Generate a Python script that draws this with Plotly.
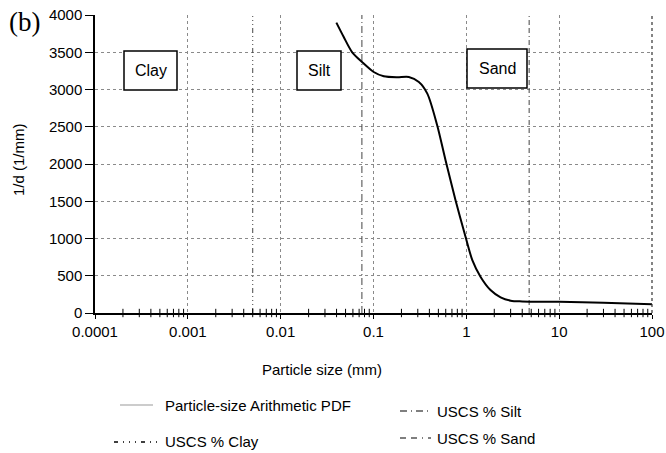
import plotly.graph_objects as go

# ---- data ----
pdf_size_mm = [0.0398, 0.0478, 0.0587, 0.0753, 0.1005, 0.129, 0.18, 0.24, 0.308, 0.38,
               0.485, 0.597, 0.765, 0.98, 1.16, 1.42, 1.82, 2.34, 3.0, 4.0,
               10.0, 30.0, 100.0]
pdf_inv_d = [3897, 3704, 3503, 3369, 3235, 3177, 3164, 3168, 3100, 2945,
             2520, 2051, 1515, 1023, 710, 487, 308, 210, 165, 155,
             150, 138, 118]

uscs_clay_mm = 0.005
uscs_silt_mm = 0.075
uscs_sand_mm = 4.75

x_tick_vals = [0.0001, 0.001, 0.01, 0.1, 1, 10, 100]
x_tick_text = ["0.0001", "0.001", "0.01", "0.1", "1", "10", "100"]
y_tick_vals = [0, 500, 1000, 1500, 2000, 2500, 3000, 3500, 4000]
y_tick_text = ["0", "500", "1000", "1500", "2000", "2500", "3000", "3500", "4000"]
minor_mult = [2, 3, 4, 5, 6, 7, 8, 9]
decades = [0.0001, 0.001, 0.01, 0.1, 1, 10]

# the page margin is removed below, so the figure fills the whole window
OFF = 0
W, H = 666, 453
L, R, T, B = 95, 14, 15, 140
pw, ph = W - L - R, H - T - B


def px(xw):
    return (xw - OFF - L) / pw


def py(yw):
    return (H - B - (yw - OFF)) / ph


FONT = "Liberation Sans, Arial, sans-serif"
FS = 15
fig = go.Figure()

# USCS boundary lines
dash_clay = "5px,3px,1px,3px,1px,3px,1px,3px"
dash_silt = "7px,3px,1px,3px"
dash_sand = "5px,3px,5px,3px,1px,3px"
for xv, dsh, nm in [(uscs_clay_mm, dash_clay, "USCS % Clay"),
                    (uscs_silt_mm, dash_silt, "USCS % Silt"),
                    (uscs_sand_mm, dash_sand, "USCS % Sand")]:
    fig.add_trace(go.Scatter(x=[xv, xv], y=[0, 4000], mode="lines", name=nm,
                             line=dict(color="#444", width=1, dash=dsh),
                             showlegend=False, hoverinfo="skip"))

# minor ticks crossing the x axis
minor_x = [d * m for d in decades for m in minor_mult]
fig.add_trace(go.Scatter(x=minor_x, y=[0] * len(minor_x), mode="markers",
                         marker=dict(symbol="line-ns", size=6,
                                     line=dict(color="black", width=1)),
                         showlegend=False, hoverinfo="skip", cliponaxis=False))

# PDF curve
fig.add_trace(go.Scatter(x=pdf_size_mm, y=pdf_inv_d, mode="lines",
                         name="Particle-size Arithmetic PDF",
                         line=dict(color="black", width=2, shape="spline", smoothing=0.8),
                         showlegend=False))

fig.update_xaxes(type="log", range=[-4, 2], tickvals=x_tick_vals, ticktext=x_tick_text,
                 showgrid=True, gridcolor="#8a8a8a", griddash="dot", gridwidth=1,
                 ticks="outside", ticklen=4, tickcolor="black",
                 showline=True, linecolor="black", linewidth=1.5,
                 zeroline=False, automargin=False, ticklabeloverflow="allow",
                 tickfont=dict(family=FONT, size=FS, color="black"))
fig.update_yaxes(range=[0, 4000], tickvals=y_tick_vals, ticktext=y_tick_text,
                 showgrid=True, gridcolor="#8a8a8a", griddash="dot", gridwidth=1,
                 ticks="outside", ticklen=8, tickcolor="black",
                 showline=True, linecolor="black", linewidth=1.5,
                 zeroline=False, automargin=False, ticklabeloverflow="allow",
                 tickfont=dict(family=FONT, size=FS, color="black"))

shapes = []
# right border (dotted dark)
shapes.append(dict(type="line", xref="paper", yref="paper", x0=1, x1=1, y0=0, y1=1,
                   line=dict(color="#333", width=1.2, dash="dot")))

ann = []
# zone labels with boxes
for label, x0, x1, y0, y1 in [("Clay", 124, 177, 51, 90),
                              ("Silt", 297, 341, 51, 90),
                              ("Sand", 467, 527, 49, 88)]:
    shapes.append(dict(type="rect", xref="paper", yref="paper",
                       x0=px(x0), x1=px(x1), y0=py(y1), y1=py(y0),
                       line=dict(color="black", width=1.5), fillcolor="white", layer="above"))
    ann.append(dict(text=label, xref="paper", yref="paper", x=px((x0 + x1) / 2),
                    y=py((y0 + y1) / 2), xanchor="center", yanchor="middle", showarrow=False,
                    font=dict(family=FONT, size=16, color="black")))

# axis titles and panel label
ann.append(dict(text="Particle size (mm)", xref="paper", yref="paper", x=px(322), y=py(369),
                xanchor="center", yanchor="middle",
                showarrow=False, font=dict(family=FONT, size=FS, color="black")))
ann.append(dict(text="1/d (1/mm)", xref="paper", yref="paper", x=px(18), y=py(160),
                xanchor="center", yanchor="middle",
                textangle=-90, showarrow=False, font=dict(family=FONT, size=FS, color="black")))
ann.append(dict(text="(b)", xref="paper", yref="paper", x=px(24), y=py(22),
                xanchor="center", yanchor="middle",
                showarrow=False, font=dict(family="Liberation Serif, Times New Roman, serif",
                                           size=27, color="black")))

# manual legend
leg = [("Particle-size Arithmetic PDF", 120, 153, 163, 405, "solid", "#999", 1),
       ("USCS % Clay", 114, 158, 163, 442, "4px,5px,1px,5px,1px,5px,1px,5px", "black", 1.5),
       ("USCS % Silt", 400, 432, 435, 411, "7px,4px,1px,4px", "black", 1.2),
       ("USCS % Sand", 400, 431, 435, 438, "6px,5px,6px,5px,1px,5px", "black", 1.2)]
for txt, lx0, lx1, tx, yy, dsh, col, wd in leg:
    shapes.append(dict(type="line", xref="paper", yref="paper", x0=px(lx0), x1=px(lx1),
                       y0=py(yy), y1=py(yy), line=dict(color=col, width=wd, dash=dsh)))
    ann.append(dict(text=txt, xref="paper", yref="paper", x=px(tx), y=py(yy),
                    xanchor="left", yanchor="middle", showarrow=False,
                    font=dict(family=FONT, size=FS, color="black")))

fig.update_layout(width=W, height=H, margin=dict(l=L, r=R, t=T, b=B, autoexpand=False),
                  paper_bgcolor="white", plot_bgcolor="white",
                  shapes=shapes, annotations=ann, showlegend=False)

fig.write_html("out.html", config={"displayModeBar": False},
               post_script="document.body.style.margin='0';"
                           "document.body.style.overflow='hidden';")
